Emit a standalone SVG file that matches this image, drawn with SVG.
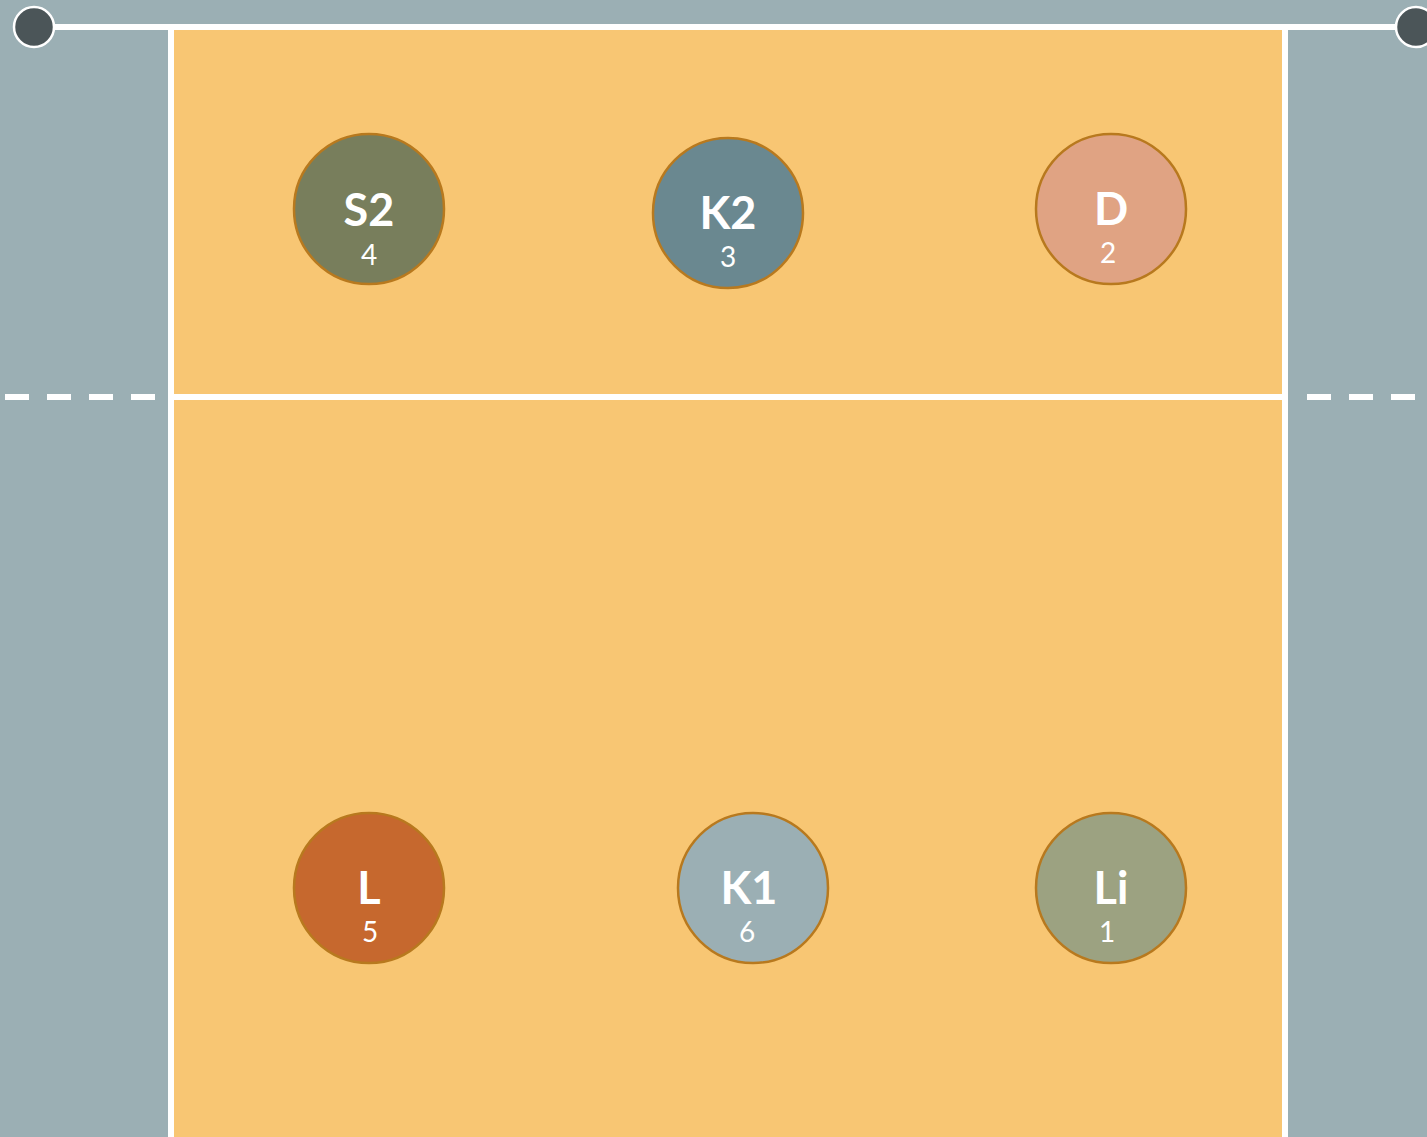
<svg xmlns="http://www.w3.org/2000/svg" width="1427" height="1137" viewBox="0 0 1427 1137">
<style>
.player{stroke:#B8791E;stroke-width:2.5}
.lbl{font-family:Lato,"Open Sans",sans-serif;font-weight:700;font-size:45px;fill:#fff;text-anchor:middle}
.num{font-family:Lato,"Open Sans",sans-serif;font-weight:400;font-size:28px;fill:#fff;text-anchor:middle}
.ln{stroke:#fff;stroke-width:6;fill:none}
</style>
<rect x="0" y="0" width="1427" height="1137" fill="#9BAFB4"/>
<rect x="171" y="27" width="1114" height="1120" fill="#F8C673"/>
<g id="lines">
<line class="ln" x1="171" y1="27" x2="171" y2="1137"/>
<line class="ln" x1="1285" y1="27" x2="1285" y2="1137"/>
<line class="ln" x1="34" y1="27" x2="1415" y2="27"/>
<line class="ln" x1="171" y1="397" x2="1285" y2="397"/>
<line class="ln" x1="5" y1="397" x2="160" y2="397" stroke-dasharray="24 18"/>
<line class="ln" x1="1307" y1="397" x2="1427" y2="397" stroke-dasharray="24 18"/>
<circle cx="34" cy="27" r="20" fill="#4B5558" stroke="#fff" stroke-width="2.5"/>
<circle cx="1416" cy="27" r="20" fill="#4B5558" stroke="#fff" stroke-width="2.5"/>
</g>
<g id="S2"><circle class="player" cx="369" cy="209" r="75" fill="#787E5C"/><text class="lbl" x="369" y="226">S2</text><text class="num" x="369" y="265">4</text></g>
<g id="K2"><circle class="player" cx="728" cy="213" r="75" fill="#6A8890"/><text class="lbl" x="728" y="229">K2</text><text class="num" x="728" y="267">3</text></g>
<g id="D"><circle class="player" cx="1111" cy="209" r="75" fill="#E0A383"/><text class="lbl" x="1111" y="225">D</text><text class="num" x="1108" y="263">2</text></g>
<g id="L"><circle class="player" cx="369" cy="888" r="75" fill="#C6682E"/><text class="lbl" x="369" y="904">L</text><text class="num" x="370" y="942">5</text></g>
<g id="K1"><circle class="player" cx="753" cy="888" r="75" fill="#9BAFB4"/><text class="lbl" x="749" y="904">K1</text><text class="num" x="747" y="942">6</text></g>
<g id="Li"><circle class="player" cx="1111" cy="888" r="75" fill="#9CA281"/><text class="lbl" x="1111" y="904">Li</text><text class="num" x="1107" y="942">1</text></g>
</svg>
